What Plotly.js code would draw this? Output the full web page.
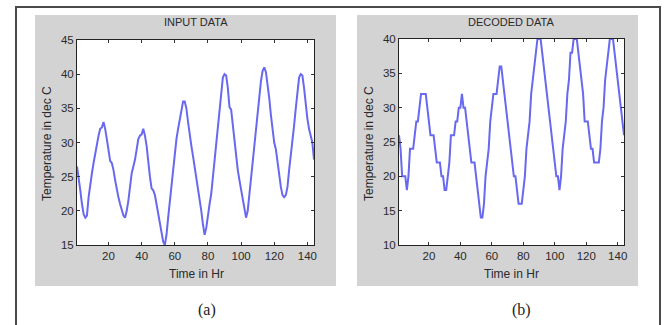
<!DOCTYPE html>
<html>
<head>
<meta charset="utf-8">
<script src="https://cdn.plot.ly/plotly-3.0.1.min.js"></script>
<style>html,body{margin:0;padding:0;background:#fff;}#chart{width:664px;height:325px;}</style>
</head>
<body>
<div id="chart"></div>
<script>
// Hours 1..144
const hours = Array.from({length: 144}, (_, i) => i + 1);

// (a) INPUT DATA – temperature
const inputTemp = [
  26.5, 25, 23, 21, 19.5, 19, 19.3, 22, 24, 25.5,
  27, 28.5, 29.5, 31, 32, 32.2, 33, 32, 30.5, 28.5,
  27.3, 27, 26, 24.5, 23, 22, 21, 20, 19.3, 19,
  20, 21.5, 23.5, 25.5, 26.5, 27.5, 29, 30.5, 31, 31.2,
  32, 31, 29.5, 27, 25, 23.3, 23, 22.3, 21, 19.5,
  18, 16.5, 15.5, 15, 16.5, 19, 21.5, 24, 26.5, 28.5,
  30.5, 32, 33.5, 35, 36, 36, 35, 33, 31, 29.5,
  28, 26.5, 25, 23, 21.5, 20, 18, 16.5, 17.5, 19.5,
  21, 22.5, 25, 27.5, 30, 32.5, 35, 37.5, 39.5, 40,
  39.8, 38, 35.2, 34.8, 32.5, 30, 28, 26, 24.5, 23,
  21.5, 20, 19, 20, 22.5, 25, 27.5, 30, 32.5, 35,
  37, 39, 40.5, 41, 40.3, 38.5, 36.5, 34, 31.5, 30,
  29, 27, 25, 23.5, 22.3, 22, 22.3, 23.5, 26, 28,
  30, 32.5, 35, 37.5, 39.5, 40, 39.8, 38, 35.5, 33.5,
  32, 31, 30, 27.5
];

// (b) DECODED DATA – quantised temperature
const decodedTemp = [
  26, 24, 20, 20, 20, 18, 20, 24, 24, 24,
  26, 28, 28, 30, 32, 32, 32, 32, 30, 28,
  26, 26, 26, 24, 22, 22, 22, 20, 20, 18,
  18, 20, 22, 26, 26, 26, 28, 28, 30, 30,
  32, 30, 30, 28, 26, 24, 22, 22, 22, 20,
  18, 16, 14, 14, 16, 20, 22, 24, 28, 30,
  32, 32, 32, 34, 36, 36, 34, 32, 30, 28,
  26, 24, 22, 20, 20, 18, 16, 16, 16, 18,
  20, 24, 26, 28, 32, 34, 36, 38, 40, 40,
  40, 38, 36, 34, 32, 30, 28, 26, 24, 22,
  20, 20, 18, 20, 24, 26, 28, 32, 34, 38,
  38, 40, 40, 40, 38, 36, 34, 32, 28, 28,
  28, 26, 24, 24, 22, 22, 22, 22, 24, 28,
  30, 34, 36, 38, 40, 40, 40, 38, 36, 34,
  32, 30, 28, 26
];

const xTicks = [20, 40, 60, 80, 100, 120, 140];
const yTicksA = [15, 20, 25, 30, 35, 40, 45];
const yTicksB = [10, 15, 20, 25, 30, 35, 40];

const titleA = 'INPUT DATA';
const titleB = 'DECODED DATA';
const xTitle = 'Time in Hr';
const yTitle = 'Temperature in dec C';
const labelA = '(a)';
const labelB = '(b)';

const W = 664, H = 325;
const px = v => v / W;
const py = v => 1 - v / H;

const lineStyle = {color: 'rgb(104,104,240)', width: 2};

const traces = [
  {x: hours, y: inputTemp, type: 'scatter', mode: 'lines', line: lineStyle, xaxis: 'x', yaxis: 'y', hoverinfo: 'skip'},
  {x: hours, y: decodedTemp, type: 'scatter', mode: 'lines', line: lineStyle, xaxis: 'x2', yaxis: 'y2', hoverinfo: 'skip'}
];

const txt = {family: 'Liberation Sans, Arial, sans-serif', color: '#2a2a2a'};

const axisCommon = {
  showgrid: false, zeroline: false,
  showline: true, linecolor: '#222', linewidth: 1, mirror: 'ticks',
  ticks: 'inside', ticklen: 3, tickwidth: 1, tickcolor: '#333',
  tickfont: Object.assign({size: 11.5}, txt),
  fixedrange: true
};

const capFont = {family: 'Liberation Serif, Times New Roman, serif', size: 16, color: '#222'};

const layout = {
  width: W, height: H,
  margin: {l: 0, r: 0, t: 0, b: 0},
  paper_bgcolor: '#ffffff',
  plot_bgcolor: '#ffffff',
  showlegend: false,
  xaxis: Object.assign({}, axisCommon, {domain: [px(77), px(314)], range: [1, 144], tickvals: xTicks, anchor: 'y'}),
  yaxis: Object.assign({}, axisCommon, {domain: [py(245), py(40)], range: [15, 45], tickvals: yTicksA, anchor: 'x'}),
  xaxis2: Object.assign({}, axisCommon, {domain: [px(399), px(624)], range: [1, 144], tickvals: xTicks, anchor: 'y2'}),
  yaxis2: Object.assign({}, axisCommon, {domain: [py(245), py(39)], range: [10, 40], tickvals: yTicksB, anchor: 'x2'}),
  shapes: [
    {type: 'rect', xref: 'paper', yref: 'paper', x0: px(16), x1: px(660), y0: -0.2, y1: py(7), line: {color: '#4a4a4a', width: 2}, fillcolor: 'rgba(0,0,0,0)', layer: 'below'},
    {type: 'rect', xref: 'paper', yref: 'paper', x0: px(35), x1: px(336), y0: py(286), y1: py(15), line: {width: 0}, fillcolor: '#d3d3d3', layer: 'below'},
    {type: 'rect', xref: 'paper', yref: 'paper', x0: px(357), x1: px(638), y0: py(286), y1: py(15), line: {width: 0}, fillcolor: '#d3d3d3', layer: 'below'},
    {type: 'rect', xref: 'x domain', yref: 'y domain', x0: 0, x1: 1, y0: 0, y1: 1, line: {width: 0}, fillcolor: '#ffffff', layer: 'below'},
    {type: 'rect', xref: 'x2 domain', yref: 'y2 domain', x0: 0, x1: 1, y0: 0, y1: 1, line: {width: 0}, fillcolor: '#ffffff', layer: 'below'}
  ],
  annotations: [
    {text: titleA, xref: 'paper', yref: 'paper', x: px(196), y: py(22), showarrow: false, xanchor: 'center', yanchor: 'middle', font: Object.assign({size: 11}, txt)},
    {text: titleB, xref: 'paper', yref: 'paper', x: px(511), y: py(22), showarrow: false, xanchor: 'center', yanchor: 'middle', font: Object.assign({size: 11}, txt)},
    {text: xTitle, xref: 'paper', yref: 'paper', x: px(196), y: py(274), showarrow: false, xanchor: 'center', yanchor: 'middle', font: Object.assign({size: 12}, txt)},
    {text: xTitle, xref: 'paper', yref: 'paper', x: px(511), y: py(274), showarrow: false, xanchor: 'center', yanchor: 'middle', font: Object.assign({size: 12}, txt)},
    {text: yTitle, xref: 'paper', yref: 'paper', x: px(47), y: py(144), showarrow: false, textangle: -90, xanchor: 'center', yanchor: 'middle', font: Object.assign({size: 12}, txt)},
    {text: yTitle, xref: 'paper', yref: 'paper', x: px(369), y: py(144), showarrow: false, textangle: -90, xanchor: 'center', yanchor: 'middle', font: Object.assign({size: 12}, txt)},
    {text: labelA, xref: 'paper', yref: 'paper', x: px(207), y: py(310), showarrow: false, xanchor: 'center', yanchor: 'middle', font: capFont},
    {text: labelB, xref: 'paper', yref: 'paper', x: px(521), y: py(310), showarrow: false, xanchor: 'center', yanchor: 'middle', font: capFont}
  ]
};

Plotly.newPlot('chart', traces, layout, {staticPlot: true, displayModeBar: false});
</script>
</body>
</html>
